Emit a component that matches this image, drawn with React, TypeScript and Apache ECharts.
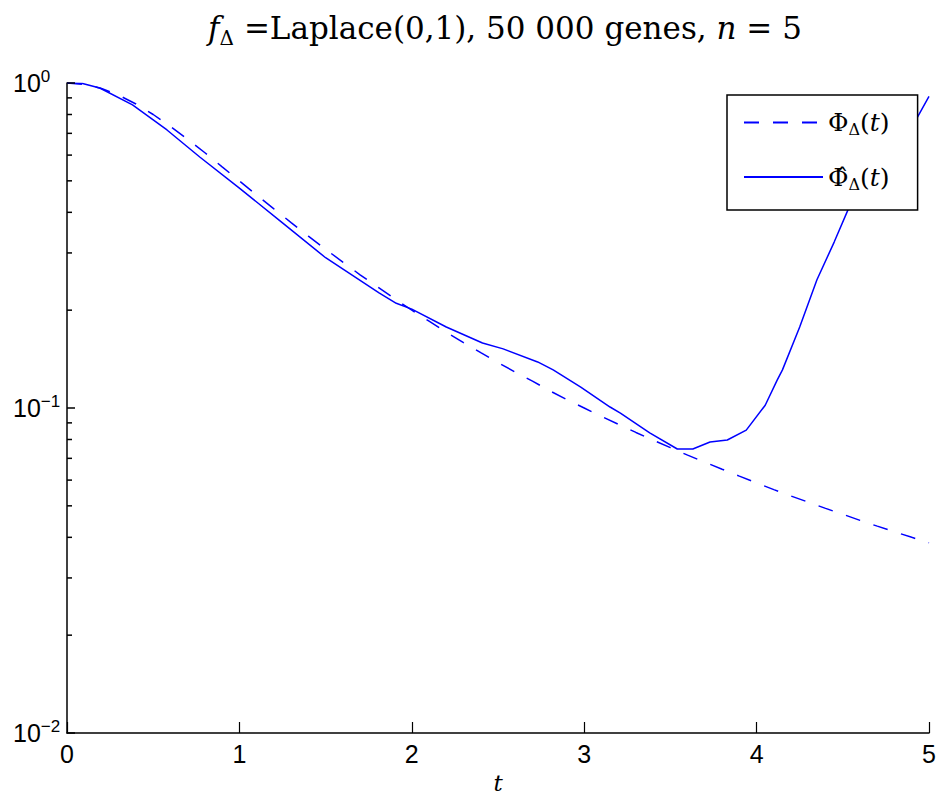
import React, { useEffect, useRef } from "react";
import * as echarts from "echarts";

// Theoretical curve Φ_Δ(t) (dashed)
const tTrue = [
  0, 0.1, 0.2, 0.3, 0.4, 0.5, 0.6, 0.7, 0.8, 0.9,
  1.0, 1.1, 1.2, 1.3, 1.4, 1.5, 1.6, 1.7, 1.8, 1.9,
  2.0, 2.1, 2.2, 2.3, 2.4, 2.5, 2.6, 2.7, 2.8, 2.9,
  3.0, 3.1, 3.2, 3.3, 3.4, 3.5, 3.6, 3.7, 3.8, 3.9,
  4.0, 4.1, 4.2, 4.3, 4.4, 4.5, 4.6, 4.7, 4.8, 4.9, 5.0,
];
const phiTrue = [
  1.0, 0.99, 0.962, 0.917, 0.862, 0.8, 0.735, 0.671, 0.61, 0.552,
  0.5, 0.452, 0.41, 0.372, 0.338, 0.308, 0.281, 0.257, 0.236, 0.217,
  0.2, 0.185, 0.171, 0.159, 0.148, 0.138, 0.129, 0.121, 0.113, 0.106,
  0.1, 0.0942, 0.089, 0.0841, 0.0796, 0.0755, 0.0716, 0.0681, 0.0648, 0.0617,
  0.0588, 0.0561, 0.0536, 0.0513, 0.0491, 0.0471, 0.0451, 0.0433, 0.0416, 0.04, 0.0385,
];

const tEmp = [
  0, 0.09, 0.19, 0.38, 0.58, 0.77, 1.0, 1.25, 1.5, 1.81, 1.91, 2.0, 2.2, 2.41,
  2.53, 2.73, 2.82, 2.98, 3.15, 3.21, 3.38, 3.54, 3.63, 3.73, 3.83, 3.94, 4.05,
  4.12, 4.15, 4.25, 4.35, 4.45, 4.53, 4.65, 4.75, 4.85, 4.93, 5.0,
];
const phiEmp = [
  1.0, 0.997, 0.965, 0.856, 0.717, 0.592, 0.475, 0.371, 0.29, 0.226, 0.21, 0.2015,
  0.1775, 0.1585, 0.152, 0.1386, 0.131, 0.116, 0.1007, 0.0965, 0.0838, 0.0748,
  0.0748, 0.0786, 0.0797, 0.0855, 0.102, 0.122, 0.131, 0.1775, 0.248, 0.324, 0.407,
  0.503, 0.6, 0.712, 0.78, 0.91,
];

const yMajorTicks = [0.01, 0.1, 1];
const yMinorTicks = [
  0.02, 0.03, 0.04, 0.05, 0.06, 0.07, 0.08, 0.09,
  0.2, 0.3, 0.4, 0.5, 0.6, 0.7, 0.8, 0.9,
];

const seriesNames = ["Φ_Δ(t)", "Φ̂_Δ(t)"];
const legendLabels: Record<string, string> = {
  "Φ_Δ(t)": "{a|Φ}{s|Δ}{a|(}{i|t}{a|)}",
  "Φ̂_Δ(t)": "{a|Φ̂}{s|Δ}{a|(}{i|t}{a|)}",
};

const BLUE = "#0000ff";
const SANS = "Liberation Sans, Arial, sans-serif";
const SERIF = "DejaVu Serif, serif";

export default function App() {
  const ref = useRef<HTMLDivElement>(null);

  useEffect(() => {
    document.body.style.margin = "0";
    if (!ref.current) return;
    const chart = echarts.init(ref.current, null, { renderer: "svg" });

    const expLabel = (v: number) => {
      const e = Math.round(Math.log10(v));
      const s = e < 0 ? "−" + String(-e) : String(e);
      return `{b|10}{s|${s}}`;
    };

    // inward y-axis ticks, placed through the log axis with api.coord
    const tickSeries = (values: number[], len: number) => ({
      type: "custom",
      silent: true,
      clip: false,
      z: 6,
      data: values.map((v) => [0, v]),
      renderItem: (_p: any, api: any) => {
        const p = api.coord([api.value(0), api.value(1)]);
        return {
          type: "rect",
          shape: { x: p[0], y: p[1] - 0.75, width: len, height: 1.5 },
          style: { fill: "#000" },
        };
      },
    });

    chart.setOption({
      animation: false,
      backgroundColor: "#ffffff",
      grid: {
        left: 67,
        right: 10,
        top: 83,
        bottom: 69,
        outerBoundsMode: "none",
        containLabel: false,
      },
      graphic: [
        {
          type: "text",
          x: 505,
          y: 28,
          style: {
            text: "{i|f}{sub|Δ}{r| =Laplace(0,1), 50 000 genes, }{i|n}{r| = 5}",
            align: "center",
            verticalAlign: "middle",
            rich: {
              i: { fontFamily: SERIF, fontStyle: "italic", fontSize: 31, lineHeight: 40, fill: "#000" },
              r: { fontFamily: SERIF, fontSize: 31, lineHeight: 40, fill: "#000" },
              sub: { fontFamily: SERIF, fontSize: 20, lineHeight: 14, verticalAlign: "bottom", fill: "#000" },
            },
          },
        },
      ],
      legend: {
        show: true,
        orient: "vertical",
        left: 727,
        top: 95,
        padding: [15, 28, 18, 16],
        itemGap: 27,
        itemWidth: 79,
        itemHeight: 14,
        borderColor: "#000",
        borderWidth: 1.5,
        backgroundColor: "#fff",
        borderRadius: 0,
        itemStyle: { opacity: 0 },
        data: seriesNames,
        formatter: (name: string) => legendLabels[name] || name,
        textStyle: {
          color: "#000",
          rich: {
            a: { fontFamily: SERIF, fontSize: 25, lineHeight: 30, color: "#000" },
            i: { fontFamily: SERIF, fontStyle: "italic", fontSize: 25, lineHeight: 30, color: "#000" },
            s: { fontFamily: SERIF, fontSize: 16, lineHeight: 12, verticalAlign: "bottom", color: "#000" },
          },
        },
      },
      xAxis: {
        type: "value",
        min: 0,
        max: 5,
        interval: 1,
        name: "t",
        nameLocation: "middle",
        nameGap: 38,
        nameTextStyle: { fontFamily: SERIF, fontStyle: "italic", fontSize: 23, color: "#000" },
        axisLine: { show: true, onZero: false, lineStyle: { color: "#000", width: 1.5 } },
        axisTick: { show: true, inside: true, length: 11, lineStyle: { color: "#000", width: 1.2 } },
        axisLabel: { show: true, fontFamily: SANS, fontSize: 25, color: "#000", margin: 8 },
        splitLine: { show: false },
      },
      yAxis: {
        type: "log",
        logBase: 10,
        min: 0.01,
        max: 1,
        axisLine: { show: true, lineStyle: { color: "#000", width: 1.5 } },
        axisTick: { show: false },
        axisLabel: {
          show: true,
          align: "left",
          margin: 54,
          formatter: expLabel,
          rich: {
            b: { fontFamily: SANS, fontSize: 25, lineHeight: 30, color: "#000" },
            s: { fontFamily: SANS, fontSize: 17, lineHeight: 6, verticalAlign: "top", color: "#000" },
          },
        },
        splitLine: { show: false },
      },
      series: [
        {
          name: seriesNames[0],
          type: "line",
          showSymbol: false,
          symbol: "none",
          data: tTrue.map((t, i) => [t, phiTrue[i]]),
          lineStyle: { color: BLUE, width: 1.5, type: [15, 14] },
          itemStyle: { color: BLUE },
          z: 2,
        },
        {
          name: seriesNames[1],
          type: "line",
          showSymbol: false,
          symbol: "none",
          data: tEmp.map((t, i) => [t, phiEmp[i]]),
          lineStyle: { color: BLUE, width: 1.5, type: "solid" },
          itemStyle: { color: BLUE },
          z: 3,
        },
        tickSeries(yMajorTicks, 8),
        tickSeries(yMinorTicks, 5),
      ],
    });

    return () => {
      chart.dispose();
    };
  }, []);

  return (
    <div
      ref={ref}
      style={{ position: "fixed", left: 0, top: 0, width: 939, height: 802, background: "#fff" }}
    />
  );
}
